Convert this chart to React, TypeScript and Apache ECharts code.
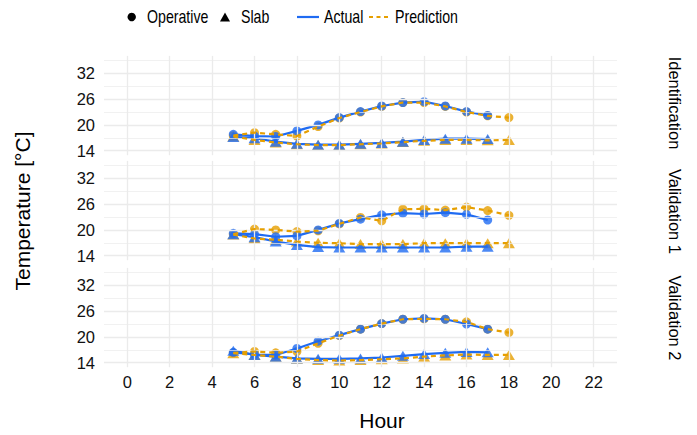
import React, { useEffect, useRef } from "react";
import * as echarts from "echarts";

const panelNames = ["Identification", "Validation 1", "Validation 2"];
const hoursActual = [5, 6, 7, 8, 9, 10, 11, 12, 13, 14, 15, 16, 17];
const hoursPred = [5, 6, 7, 8, 9, 10, 11, 12, 13, 14, 15, 16, 17, 18];
const xTicks = [0, 2, 4, 6, 8, 10, 12, 14, 16, 18, 20, 22];
const yTicks = [14, 20, 26, 32];
const yMinor = [17, 23, 29, 35];

// Identification
const identOperativeActual = [17.8, 17.4, 17.3, 18.6, 20.0, 21.7, 23.1, 24.4, 25.2, 25.4, 24.4, 23.1, 22.2];
const identOperativePred = [17.5, 18.2, 17.8, 17.4, 19.6, 21.6, 23.0, 24.3, 25.2, 25.2, 24.3, 23.0, 22.1, 21.7];
const identSlabActual = [17.2, 16.9, 16.1, 15.6, 15.4, 15.4, 15.6, 15.8, 16.1, 16.5, 16.8, 16.8, 16.7];
const identSlabPred = [17.3, 16.5, 15.9, 15.5, 15.3, 15.3, 15.5, 15.7, 16.0, 16.3, 16.5, 16.5, 16.4, 16.5];
// Validation 1
const val1OperativeActual = [19.2, 19.0, 18.4, 18.6, 20.0, 21.5, 22.5, 23.5, 23.9, 23.7, 24.0, 23.6, 22.3];
const val1OperativePred = [19.0, 20.2, 20.0, 19.6, 19.8, 21.4, 22.9, 22.1, 24.8, 24.9, 24.6, 25.3, 24.5, 23.4];
const val1SlabActual = [19.0, 18.3, 17.3, 16.5, 16.0, 15.9, 15.9, 15.9, 15.9, 15.9, 15.9, 16.1, 16.1];
const val1SlabPred = [18.9, 18.0, 17.7, 17.3, 17.0, 16.9, 16.7, 16.7, 16.7, 16.9, 16.9, 16.9, 16.9, 16.9];
// Validation 2
const val2OperativeActual = [16.4, 15.9, 15.8, 17.3, 19.0, 20.4, 21.8, 23.1, 24.1, 24.3, 24.1, 23.0, 21.8];
const val2OperativePred = [16.3, 16.6, 16.3, 16.6, 18.5, 20.3, 21.8, 23.1, 24.1, 24.2, 24.1, 23.5, 21.8, 21.0];
const val2SlabActual = [16.8, 15.8, 15.4, 15.0, 14.9, 14.9, 15.0, 15.2, 15.6, 16.0, 16.3, 16.5, 16.4];
const val2SlabPred = [16.2, 15.8, 15.4, 14.9, 14.6, 14.5, 14.6, 14.8, 15.0, 15.4, 15.7, 15.9, 15.8, 15.8];

const operativeActual = [identOperativeActual, val1OperativeActual, val2OperativeActual];
const operativePred = [identOperativePred, val1OperativePred, val2OperativePred];
const slabActual = [identSlabActual, val1SlabActual, val2SlabActual];
const slabPred = [identSlabPred, val1SlabPred, val2SlabPred];

const BLUE = "#1F6BF2";
const ORANGE = "#E69F00";
const FONT = "'Liberation Sans', Arial, Helvetica, sans-serif";
const GRID_COLOR = "#EBEBEB";

export default function App() {
  const ref = useRef<HTMLDivElement>(null);
  useEffect(() => {
    if (!ref.current) return;
    const chart = echarts.init(ref.current, null, { renderer: "svg" });
    const left = 104;
    const width = 513;
    const height = 99.3;
    const tops = [55.9, 160.9, 267.9];

    const grids = tops.map((t) => ({ left, top: t, width, height, containLabel: false }));
    const xAxes = tops.map((_, g) => ({
      type: "value",
      gridIndex: g,
      min: -1.1,
      max: 23.1,
      axisLine: { show: false },
      axisTick: { show: false },
      splitLine: { show: false },
      axisLabel: {
        show: g === 2,
        customValues: xTicks,
        margin: 6,
        fontSize: 16.5,
        color: "#111",
        fontFamily: FONT,
      },
    }));
    const yAxes = tops.map((_, g) => ({
      type: "value",
      gridIndex: g,
      min: 12.95,
      max: 36.05,
      axisLine: { show: false },
      axisTick: { show: false },
      splitLine: { show: false },
      axisLabel: {
        customValues: yTicks,
        margin: 9,
        fontSize: 16.5,
        color: "#111",
        fontFamily: FONT,
      },
    }));

    const pair = (hs: number[], vs: number[]) => hs.map((h, i) => [h, vs[i]]);
    const series: any[] = [];
    tops.forEach((_, g) => {
      const gridLines: any[] = [];
      yMinor.forEach((v) => gridLines.push({ yAxis: v, lineStyle: { width: 0.7, color: GRID_COLOR, type: "solid" } }));
      yTicks.forEach((v) => gridLines.push({ yAxis: v, lineStyle: { width: 1.3, color: GRID_COLOR, type: "solid" } }));
      xTicks.forEach((v) => gridLines.push({ xAxis: v, lineStyle: { width: 1.3, color: GRID_COLOR, type: "solid" } }));
      series.push({
        type: "line",
        xAxisIndex: g,
        yAxisIndex: g,
        data: [[5, 20]],
        showSymbol: false,
        lineStyle: { width: 0, opacity: 0 },
        silent: true,
        z: 0,
        markLine: { silent: true, symbol: ["none", "none"], label: { show: false }, data: gridLines, animation: false },
      });
      // points
      series.push({
        type: "scatter", xAxisIndex: g, yAxisIndex: g, z: 2,
        data: pair(hoursPred, operativePred[g]), symbol: "circle", symbolSize: 9,
        itemStyle: { color: ORANGE },
      });
      series.push({
        type: "scatter", xAxisIndex: g, yAxisIndex: g, z: 2,
        data: pair(hoursPred, slabPred[g]), symbol: "triangle", symbolSize: [12, 10],
        itemStyle: { color: ORANGE },
      });
      series.push({
        type: "scatter", xAxisIndex: g, yAxisIndex: g, z: 3,
        data: pair(hoursActual, operativeActual[g]), symbol: "circle", symbolSize: 9,
        itemStyle: { color: BLUE },
      });
      series.push({
        type: "scatter", xAxisIndex: g, yAxisIndex: g, z: 3,
        data: pair(hoursActual, slabActual[g]), symbol: "triangle", symbolSize: [12, 10],
        itemStyle: { color: BLUE },
      });
      // lines
      [operativeActual[g], slabActual[g]].forEach((vals) =>
        series.push({
          type: "line", xAxisIndex: g, yAxisIndex: g, z: 4,
          data: pair(hoursActual, vals), showSymbol: false,
          lineStyle: { color: BLUE, width: 2.2, type: "solid" },
        })
      );
      [operativePred[g], slabPred[g]].forEach((vals) =>
        series.push({
          type: "line", xAxisIndex: g, yAxisIndex: g, z: 5,
          data: pair(hoursPred, vals), showSymbol: false,
          lineStyle: { color: ORANGE, width: 2.2, type: [5, 4] },
        })
      );
    });

    const textStyle = (size: number) => ({ fontSize: size, fontFamily: FONT, fill: "#000" });
    const legendY = 17;
    const legendText = (text: string, x: number) => ({
      type: "text", x, y: legendY, scaleX: 0.81,
      style: { text, ...textStyle(17.5), textVerticalAlign: "middle" },
    });
    const graphic: any[] = [
      { type: "circle", shape: { cx: 131.7, cy: legendY, r: 4.2 }, style: { fill: "#000" } },
      legendText("Operative", 147),
      { type: "polygon", shape: { points: [[220, 21.5], [230, 21.5], [225, 12.5]] }, style: { fill: "#000" } },
      legendText("Slab", 241),
      { type: "line", shape: { x1: 297, y1: legendY, x2: 319, y2: legendY }, style: { stroke: BLUE, lineWidth: 2.2 } },
      legendText("Actual", 324),
      { type: "line", shape: { x1: 369, y1: legendY, x2: 389, y2: legendY }, style: { stroke: ORANGE, lineWidth: 2.2, lineDash: [4, 3.5] } },
      legendText("Prediction", 395),
      {
        type: "text", x: 22, y: 211, rotation: Math.PI / 2,
        style: { text: "Temperature [°C]", ...textStyle(21), textAlign: "center", textVerticalAlign: "middle" },
      },
      {
        type: "text", x: 382, y: 420,
        style: { text: "Hour", ...textStyle(21), textAlign: "center", textVerticalAlign: "middle" },
      },
    ];
    const stripCenters = [103, 211.5, 318];
    panelNames.forEach((name, i) => {
      graphic.push({
        type: "text", x: 675, y: stripCenters[i], rotation: -Math.PI / 2,
        style: { text: name, ...textStyle(16.5), textAlign: "center", textVerticalAlign: "middle" },
      });
    });

    chart.setOption({
      animation: false,
      backgroundColor: "#fff",
      grid: grids,
      xAxis: xAxes,
      yAxis: yAxes,
      series,
      graphic,
    });
    return () => chart.dispose();
  }, []);
  return <div ref={ref} style={{ position: "absolute", left: 0, top: 0, width: 697, height: 435 }} />;
}
